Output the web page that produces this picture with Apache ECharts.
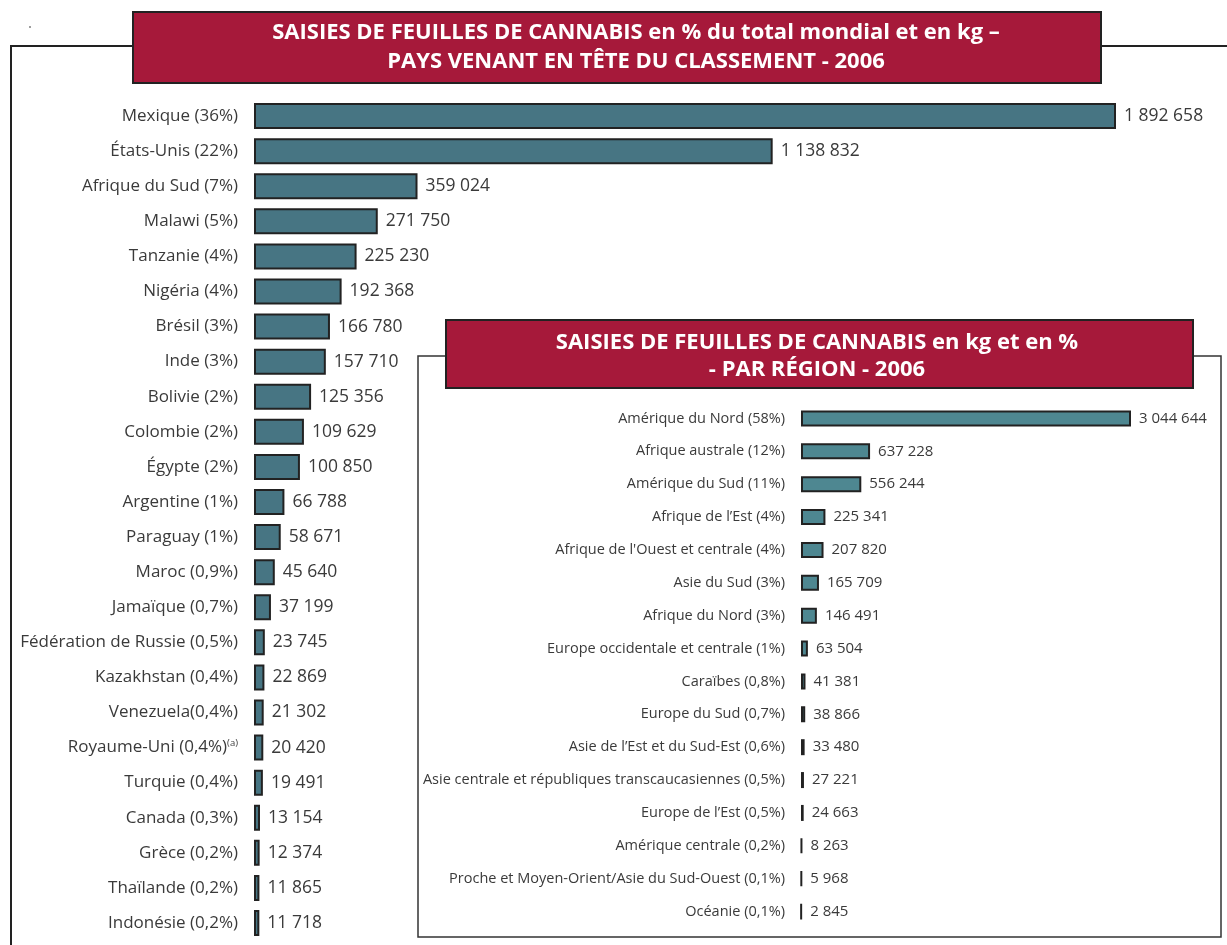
<!DOCTYPE html>
<html><head><meta charset="utf-8">
<script src="https://cdn.jsdelivr.net/npm/echarts@6/dist/echarts.min.js"></script>
<style>html,body{margin:0;padding:0;background:#fff}#c{width:1227px;height:945px}</style>
</head><body><div id="c"></div>
<script>
const countries = ["Mexique (36%)","États-Unis (22%)","Afrique du Sud (7%)","Malawi (5%)","Tanzanie (4%)","Nigéria (4%)","Brésil (3%)","Inde (3%)","Bolivie (2%)","Colombie (2%)","Égypte (2%)","Argentine (1%)","Paraguay (1%)","Maroc (0,9%)","Jamaïque (0,7%)","Fédération de Russie (0,5%)","Kazakhstan (0,4%)","Venezuela(0,4%)","Royaume-Uni (0,4%)","Turquie (0,4%)","Canada (0,3%)","Grèce (0,2%)","Thaïlande (0,2%)","Indonésie (0,2%)"];
const countryValues = [1892658,1138832,359024,271750,225230,192368,166780,157710,125356,109629,100850,66788,58671,45640,37199,23745,22869,21302,20420,19491,13154,12374,11865,11718];
const footnoted = {"Royaume-Uni (0,4%)":"(a)"};
const regions = ["Amérique du Nord (58%)","Afrique australe (12%)","Amérique du Sud (11%)","Afrique de l’Est (4%)","Afrique de l'Ouest et centrale (4%)","Asie du Sud (3%)","Afrique du Nord (3%)","Europe occidentale et centrale (1%)","Caraïbes (0,8%)","Europe du Sud (0,7%)","Asie de l’Est et du Sud-Est (0,6%)","Asie centrale et républiques transcaucasiennes (0,5%)","Europe de l’Est (0,5%)","Amérique centrale (0,2%)","Proche et Moyen-Orient/Asie du Sud-Ouest (0,1%)","Océanie (0,1%)"];
const regionValues = [3044644,637228,556244,225341,207820,165709,146491,63504,41381,38866,33480,27221,24663,8263,5968,2845];
const title1 = ["SAISIES DE FEUILLES DE CANNABIS en % du total mondial et en kg –","PAYS VENANT EN TÊTE DU CLASSEMENT - 2006"];
const title2 = ["SAISIES DE FEUILLES DE CANNABIS en kg et en %","- PAR RÉGION - 2006"];

const FONT = '"Open Sans", "Noto Sans", sans-serif';
const fmt = v => String(v).replace(/\B(?=(\d{3})+(?!\d))/g, ' ');
const RED = '#A6193A';
const TXT = '#3a3a3a';

const chart = echarts.init(document.getElementById('c'), null, {renderer:'canvas'});
chart.setOption({
  animation:false,
  backgroundColor:'#fff',
  textStyle:{fontFamily:FONT},
  grid:[
    {left:254, right:111, top:98.5, height:842},
    {left:801, right:96, top:402, height:526}
  ],
  xAxis:[
    {gridIndex:0, type:'value', min:0, max:Math.max(...countryValues), show:false},
    {gridIndex:1, type:'value', min:0, max:Math.max(...regionValues), show:false}
  ],
  yAxis:[
    {gridIndex:0, type:'category', inverse:true, data:countries,
     axisLine:{show:false}, axisTick:{show:false},
     axisLabel:{margin:16, fontSize:17, color:TXT, fontFamily:FONT,
       formatter:v => footnoted[v] ? '{n|'+v+'}{s|'+footnoted[v]+'}' : v,
       rich:{n:{fontSize:17,color:TXT,fontFamily:FONT}, s:{fontSize:9.5,color:TXT,fontFamily:FONT,padding:[0,0,9,0]}}}},
    {gridIndex:1, type:'category', inverse:true, data:regions,
     axisLine:{show:false}, axisTick:{show:false},
     axisLabel:{margin:16, fontSize:14.5, color:TXT, fontFamily:FONT}}
  ],
  series:[
    {type:'bar', xAxisIndex:0, yAxisIndex:0, data:countryValues, barWidth:26,
     itemStyle:{color:'#477583', borderColor:'#222', borderWidth:2},
     label:{show:true, position:'right', distance:8, fontSize:17.5, color:TXT, fontFamily:FONT, formatter:p=>fmt(p.value)}},
    {type:'bar', xAxisIndex:1, yAxisIndex:1, data:regionValues, barWidth:16,
     itemStyle:{color:'#4E8791', borderColor:'#222', borderWidth:2},
     label:{show:true, position:'right', distance:8, fontSize:15, color:TXT, fontFamily:FONT, formatter:p=>fmt(p.value)}}
  ],
  graphic:[
    {type:'polyline', z:-5, shape:{points:[[133,46],[11,46],[11,945]]}, style:{stroke:'#222', lineWidth:2, fill:null}},
    {type:'line', z:-5, shape:{x1:1101,y1:46,x2:1227,y2:46}, style:{stroke:'#222', lineWidth:2}},
    {type:'circle', shape:{cx:30,cy:27,r:0.8}, style:{fill:'#222'}},
    {type:'rect', z:10, shape:{x:133,y:12,width:968,height:71}, style:{fill:RED, stroke:'#222', lineWidth:2}},
    {type:'text', z:11, x:636, y:33, style:{text:title1[0], fill:'#fff', font:'bold 22px '+FONT, align:'center', verticalAlign:'middle'}},
    {type:'text', z:11, x:636, y:62, style:{text:title1[1], fill:'#fff', font:'bold 22px '+FONT, align:'center', verticalAlign:'middle'}},
    {type:'rect', z:-4, shape:{x:418,y:356,width:803,height:581}, style:{fill:'#fff', stroke:'#333', lineWidth:1.5}},
    {type:'rect', z:10, shape:{x:446,y:320,width:747,height:68}, style:{fill:RED, stroke:'#222', lineWidth:2}},
    {type:'text', z:11, x:817, y:343, style:{text:title2[0], fill:'#fff', font:'bold 22px '+FONT, align:'center', verticalAlign:'middle'}},
    {type:'text', z:11, x:817, y:370, style:{text:title2[1], fill:'#fff', font:'bold 22px '+FONT, align:'center', verticalAlign:'middle'}}
  ]
});
</script></body></html>
